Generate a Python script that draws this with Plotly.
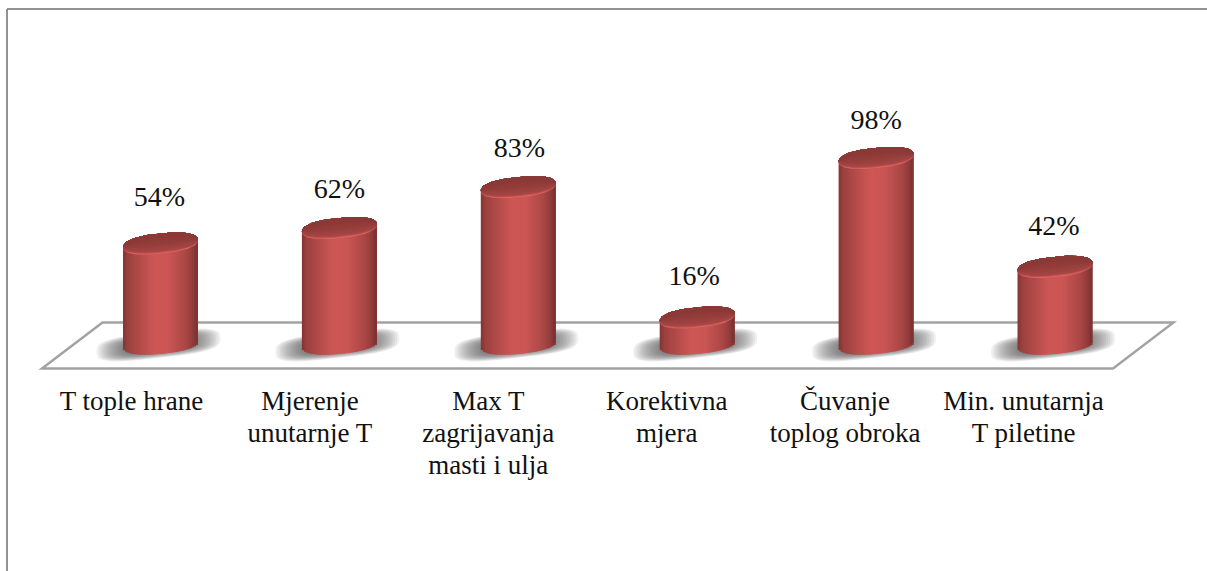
import math
import plotly.graph_objects as go

categories = [
    "T tople hrane",
    "Mjerenje<br>unutarnje T",
    "Max T<br>zagrijavanja<br>masti i ulja",
    "Korektivna<br>mjera",
    "Čuvanje<br>toplog obroka",
    "Min. unutarnja<br>T piletine",
]
values = [54, 62, 83, 16, 98, 42]
value_labels = ["54%", "62%", "83%", "16%", "98%", "42%"]

W, H = 1207, 571
PL, PR, PT, PB = 30, 1187, 10, 372   # plot area in pixels
X0, DX = 160.5, 178.9                # first category centre, px per category
Y0, DY = 348.6, 1.945                # pixel of value 0, px per value unit
RAD, TILT, B = 37.5, 3.6, 10.2       # cylinder radius, tilt and minor axis
ROUND = 0.85                         # below 1 makes the cap rounder than an ellipse
BASE = 2.62                          # value-scale height of the cylinder base centre
LABEL_DX = [-1, 0, 1, -3, 0, -1]     # hand placement of the value labels, px
LABEL_DY = [6, -1, -1, 1, -2, 1]
TICK_X0, TICK_DX = 131.5, 178.4      # category labels sit left of the cylinders, px


def xd(px):
    return (px - X0) / DX


def yd(py):
    return (Y0 - py) / DY


def xp(px):
    return (px - PL) / (PR - PL)


def yp(py):
    return (PB - py) / (PB - PT)


def hex_rgb(c):
    return [int(c[i:i + 2], 16) for i in (1, 3, 5)]


def ramp(stops, t):
    for (a, ca), (b, cb) in zip(stops, stops[1:]):
        if t <= b:
            f = (t - a) / (b - a)
            ra, rb = hex_rgb(ca), hex_rgb(cb)
            return "rgb(%d,%d,%d)" % tuple(round(ra[i] + (rb[i] - ra[i]) * f) for i in range(3))
    return stops[-1][1]


def spow(a, p):
    return math.copysign(abs(a) ** p, a)


body_stops = [
    (0.0, "#873735"), (0.05, "#9b413f"), (0.2, "#b04a48"), (0.42, "#cd5755"),
    (0.6, "#cc5654"), (0.68, "#c05150"), (0.85, "#a94745"), (0.95, "#8f3b39"), (1.0, "#7c3331"),
]
top_stops = [(0.0, "#dc6461"), (0.07, "#b94e4c"), (0.14, "#a54644"), (0.5, "#973f3d"), (1.0, "#8a3937")]

fig = go.Figure()

# cylinder bodies: vertical strips give the side shading
N_STRIPS = 38
sw = 2 * RAD / N_STRIPS
for k in range(N_STRIPS):
    u = -1 + (2 * k + 1) / N_STRIPS
    depth = (1 - abs(u) ** (2 / ROUND)) ** (ROUND / 2)
    bottom = BASE + (TILT * u - B * depth) / DY
    top_shift = TILT * u / DY
    left = -RAD + k * sw
    width = min(sw + 2, RAD - left)
    fig.add_trace(go.Bar(
        x=list(range(len(values))),
        y=[v + top_shift - bottom for v in values],
        base=[bottom] * len(values),
        width=width / DX,
        offset=left / DX,
        marker=dict(color=ramp(body_stops, k / (N_STRIPS - 1)), line=dict(width=0)),
        hoverinfo="skip", showlegend=False,
    ))

# cylinder tops: layers share the back arc, their front arc walks towards the back
N_LAYERS = 18
for k in range(N_LAYERS):
    f = k / (N_LAYERS - 1)
    front = 1 - 1.6 * f
    xs, ys = [], []
    for i, v in enumerate(values):
        for j in range(73):
            t = 2 * math.pi * j / 72
            c = spow(math.cos(t), ROUND)
            s = spow(math.sin(t), ROUND)
            if s < 0:
                s *= front
            xs.append(i + RAD * c / DX)
            ys.append(v + (TILT * c + B * s) / DY)
        xs.append(None)
        ys.append(None)
    fig.add_trace(go.Scatter(
        x=xs, y=ys, mode="lines", fill="toself",
        fillcolor=ramp(top_stops, f), line=dict(width=0),
        hoverinfo="skip", showlegend=False,
    ))

# value labels above each cylinder
fig.add_trace(go.Scatter(
    x=[i + LABEL_DX[i] / DX for i in range(len(values))],
    y=[v + 12.5 + LABEL_DY[i] / DY for i, v in enumerate(values)],
    mode="text",
    text=value_labels,
    textposition="top center",
    textfont=dict(family="Liberation Serif", size=28, color="#111111"),
    hoverinfo="skip", showlegend=False,
))

shapes = []
# floor
floor_pts = [(42, 368.5), (102.5, 322.5), (1173.5, 322.5), (1113, 368.5)]
shapes.append(dict(
    type="path", xref="x", yref="y", layer="below",
    path="M " + " L ".join(f"{xd(a):.4f},{yd(b):.4f}" for a, b in floor_pts) + " Z",
    fillcolor="white", line=dict(color="#a2a2a2", width=2.4),
))
# soft shadows on the floor
N_SHADOW = 16
for r in range(N_SHADOW):
    g = 1 - r * 0.55 / (N_SHADOW - 1)
    for i in range(len(values)):
        cx, cy = X0 + i * DX - 2, 345
        pts = []
        for j in range(48):
            t = 2 * math.pi * j / 48
            c, s = math.cos(t), math.sin(t)
            ex = 62 * g * spow(c, 0.6)
            ey = 13 * g * spow(s, 0.6)
            pts.append((cx + ex, cy + ey - ex * 0.11))
        shapes.append(dict(
            type="path", xref="x", yref="y", layer="below",
            path="M " + " L ".join(f"{xd(a):.4f},{yd(b):.4f}" for a, b in pts) + " Z",
            fillcolor="rgba(80,80,80,0.085)", line=dict(width=0),
        ))
# chart frame
for a, b, c, d in [(7, 9, 1207, 9), (7, 9, 7, 571)]:
    shapes.append(dict(
        type="line", xref="paper", yref="paper", layer="below",
        x0=xp(a), y0=yp(b), x1=xp(c), y1=yp(d),
        line=dict(color="#929292", width=2),
    ))

tick_text = [
    "<br>".join(f'<span style="font-size:27px">{line}</span>' for line in c.split("<br>"))
    for c in categories
]
fig.update_layout(
    width=W, height=H, autosize=False,
    margin=dict(l=PL, r=W - PR, t=PT, b=H - PB, pad=0),
    paper_bgcolor="white", plot_bgcolor="white",
    barmode="overlay", showlegend=False, shapes=shapes,
    xaxis=dict(
        range=[xd(PL), xd(PR)], tickmode="array",
        tickvals=[xd(TICK_X0 + i * TICK_DX) for i in range(len(values))], ticktext=tick_text,
        tickangle=0, showgrid=False, zeroline=False, showline=False, ticks="",
        tickfont=dict(family="Liberation Serif", size=24.6, color="#111111"),
        ticklabelstandoff=12,
    ),
    yaxis=dict(range=[yd(PB), yd(PT)], visible=False),
)
fig.write_html("out.html", config={"displayModeBar": False},
               post_script="document.body.style.margin='0';document.body.style.overflow='hidden';")
